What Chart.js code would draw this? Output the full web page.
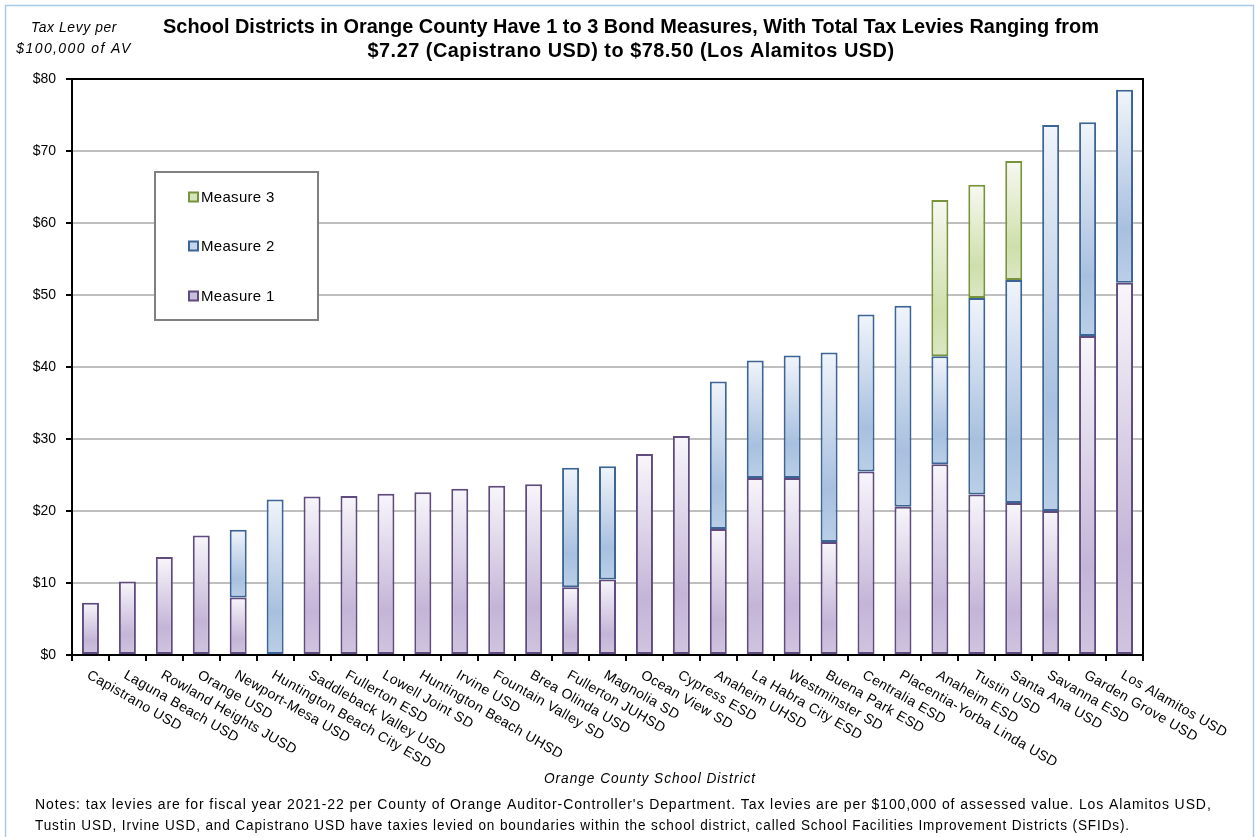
<!DOCTYPE html>
<html>
<head>
<meta charset="utf-8">
<script src="https://cdn.jsdelivr.net/npm/chart.js@4.4.1/dist/chart.umd.min.js"></script>
<style>
  html, body { margin: 0; padding: 0; background: #fff; }
  #wrap { width: 1255px; height: 837px; position: relative; }
</style>
</head>
<body>
<div id="wrap"><canvas id="chart" width="1255" height="837"></canvas></div>
<script>
// districts, left to right
const districts = [
  "Capistrano USD", "Laguna Beach USD", "Rowland Heights JUSD", "Orange USD",
  "Newport-Mesa USD", "Huntington Beach City ESD", "Saddleback Valley USD",
  "Fullerton ESD", "Lowell Joint SD", "Huntington Beach UHSD", "Irvine USD",
  "Fountain Valley SD", "Brea Olinda USD", "Fullerton JUHSD", "Magnolia SD",
  "Ocean View SD", "Cypress ESD", "Anaheim UHSD", "La Habra City ESD",
  "Westminster SD", "Buena Park ESD", "Centralia ESD", "Placentia-Yorba Linda USD",
  "Anaheim ESD", "Tustin USD", "Santa Ana USD", "Savanna ESD",
  "Garden Grove USD", "Los Alamitos USD"
];

// tax levy per $100,000 of AV, by bond measure (stacked)
const measure1 = [7.27, 10.2, 13.6, 16.6, 8.0, null, 22.0, 22.1, 22.4, 22.6, 23.1,
  23.5, 23.7, 9.4, 10.5, 27.9, 30.4, 17.5, 24.6, 24.6, 15.7, 25.5, 20.6,
  26.5, 22.3, 21.1, 20.0, 44.3, 51.7];
const measure2 = [null, null, null, null, 9.4, 21.6, null, null, null, null, null,
  null, null, 16.6, 15.7, null, null, 20.5, 16.3, 17.0, 26.3, 21.8, 27.9,
  15.0, 27.3, 31.0, 53.6, 29.7, 26.8];
const measure3 = [null, null, null, null, null, null, null, null, null, null, null,
  null, null, null, null, null, null, null, null, null, null, null, null,
  21.7, 15.7, 16.5, null, null, null];

const yTicks = [0, 10, 20, 30, 40, 50, 60, 70, 80];

const titleLines = [
  "School Districts in Orange County Have 1 to 3 Bond Measures, With Total Tax Levies Ranging from",
  "$7.27 (Capistrano USD) to $78.50 (Los Alamitos USD)"
];
const yTitle = ["Tax Levy per", "$100,000 of AV"];
const xTitle = "Orange County School District";
const notes = [
  "Notes: tax levies are for fiscal year 2021-22 per County of Orange Auditor-Controller's Department. Tax levies are per $100,000 of assessed value. Los Alamitos USD,",
  "Tustin USD, Irvine USD, and Capistrano USD have taxies levied on boundaries within the school district, called School Facilities Improvement Districts (SFIDs)."
];

const styles = {
  m1: { border: "#5f4b7d", stops: ["#f8f6fb", "#c4b5d7", "#d0c4df"], mark: "#c9bedb" },
  m2: { border: "#3c6496", stops: ["#f1f5fb", "#a8c0df", "#bacfe7"], mark: "#c5d6ec" },
  m3: { border: "#77933c", stops: ["#f7f9f1", "#cfdfab", "#dbe7c4"], mark: "#d6e4bc" }
};

const FONT = "'Liberation Sans', Arial, sans-serif";

function segFill(st) {
  return function (ctx) {
    const chart = ctx.chart;
    const y = chart.scales.y;
    if (ctx.type !== "data" || !y) return st.stops[1];
    const i = ctx.dataIndex;
    const sets = chart.data.datasets;
    let base = 0;
    for (let j = 0; j < ctx.datasetIndex; j++) base += sets[j].data[i] || 0;
    const v = sets[ctx.datasetIndex].data[i] || 0;
    const y0 = y.getPixelForValue(base + v);
    const y1 = y.getPixelForValue(base);
    if (!isFinite(y0) || !isFinite(y1) || y1 - y0 < 1) return st.stops[1];
    const g = chart.ctx.createLinearGradient(0, y0, 0, y1);
    g.addColorStop(0, st.stops[0]);
    g.addColorStop(0.72, st.stops[1]);
    g.addColorStop(1, st.stops[2]);
    return g;
  };
}

function mkSet(label, data, st) {
  return {
    label: label,
    data: data,
    backgroundColor: segFill(st),
    borderColor: st.border,
    borderWidth: 2,
    borderSkipped: false,
    barPercentage: 0.46,
    categoryPercentage: 1.0
  };
}

function spaced(c, px) {
  if ("letterSpacing" in c) c.letterSpacing = px + "px";
}

const decorations = {
  id: "decorations",
  afterDraw(chart) {
    const c = chart.ctx;
    const a = chart.chartArea;
    const xs = chart.scales.x;
    c.save();

    // outer frame
    c.strokeStyle = "#a9cbe9";
    c.lineWidth = 1.5;
    c.strokeRect(5.5, 5.5, 1248, 900);

    // plot frame top / right
    c.strokeStyle = "#000";
    c.lineWidth = 2;
    c.beginPath();
    c.moveTo(a.left, a.top);
    c.lineTo(a.right, a.top);
    c.lineTo(a.right, a.bottom);
    c.stroke();

    // title
    c.fillStyle = "#000";
    c.textAlign = "center";
    c.textBaseline = "middle";
    c.font = "bold 20px " + FONT;
    spaced(c, 0);
    c.fillText(titleLines[0], 631, 27, 936);
    spaced(c, 0.5);
    c.fillText(titleLines[1], 631, 51, 527);

    // y title
    c.font = "italic 14px " + FONT;
    spaced(c, 0.6);
    c.fillText(yTitle[0], 74, 28, 86);
    spaced(c, 1.4);
    c.fillText(yTitle[1], 74, 49, 118);

    // x title
    spaced(c, 1);
    c.fillText(xTitle, 650, 779, 212);

    // notes
    c.font = "14px " + FONT;
    c.textAlign = "left";
    spaced(c, 0.9);
    c.fillText(notes[0], 35, 805, 1177);
    c.fillText(notes[1], 35, 826, 1095);

    // rotated category labels
    c.font = "14px " + FONT;
    spaced(c, 0.4);
    c.textBaseline = "top";
    districts.forEach((d, i) => {
      const px = xs.getPixelForValue(i);
      c.save();
      c.translate(px + 1, a.bottom + 13);
      c.rotate(30 * Math.PI / 180);
      c.fillText(d, 0, 0);
      c.restore();
    });

    // legend
    spaced(c, 0);
    const lx = 155, ly = 172, lw = 163, lh = 148;
    c.fillStyle = "#fff";
    c.fillRect(lx, ly, lw, lh);
    c.strokeStyle = "#808080";
    c.lineWidth = 2;
    c.strokeRect(lx, ly, lw, lh);
    const items = [["Measure 3", styles.m3, 197], ["Measure 2", styles.m2, 246], ["Measure 1", styles.m1, 296]];
    c.textBaseline = "middle";
    c.font = "15px " + FONT;
    spaced(c, 0.3);
    items.forEach(([t, st, yy]) => {
      c.fillStyle = st.mark;
      c.fillRect(189, yy - 4.5, 9, 9);
      c.strokeStyle = st.border;
      c.lineWidth = 2;
      c.strokeRect(189, yy - 4.5, 9, 9);
      c.fillStyle = "#000";
      c.fillText(t, 201, yy + 1, 84);
    });

    c.restore();
  }
};

new Chart(document.getElementById("chart"), {
  type: "bar",
  data: {
    labels: districts,
    datasets: [
      mkSet("Measure 1", measure1, styles.m1),
      mkSet("Measure 2", measure2, styles.m2),
      mkSet("Measure 3", measure3, styles.m3)
    ]
  },
  options: {
    responsive: false,
    animation: false,
    layout: { padding: { left: 0, right: 112, top: 79, bottom: 0 } },
    plugins: {
      legend: { display: false },
      title: { display: false },
      tooltip: { enabled: false }
    },
    scales: {
      x: {
        stacked: true,
        offset: true,
        grid: {
          offset: true,
          drawOnChartArea: false,
          drawTicks: true,
          tickLength: 6,
          tickColor: "#000",
          lineWidth: 2
        },
        border: { color: "#000", width: 2 },
        ticks: { display: false },
        afterFit(scale) { scale.height = 837 - 655; }
      },
      y: {
        stacked: true,
        min: 0,
        max: 80,
        afterBuildTicks(scale) { scale.ticks = yTicks.map(v => ({ value: v })); },
        grid: {
          color: "#bfbfbf",
          lineWidth: 2,
          tickLength: 6,
          tickColor: "#000"
        },
        border: { color: "#000", width: 2 },
        ticks: {
          padding: 10,
          color: "#000",
          font: { family: FONT, size: 14 },
          callback: v => "$" + v
        },
        afterFit(scale) { scale.width = 72; }
      }
    }
  },
  plugins: [decorations]
});
</script>
</body>
</html>
